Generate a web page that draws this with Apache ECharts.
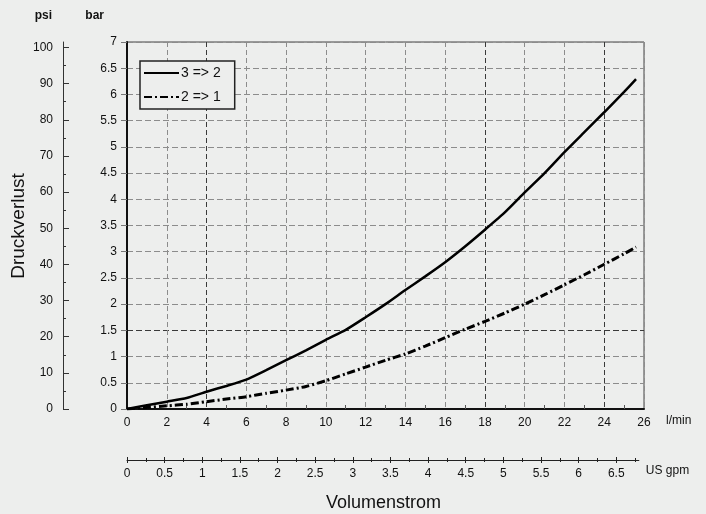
<!DOCTYPE html>
<html>
<head>
<meta charset="utf-8">
<script src="https://cdn.jsdelivr.net/npm/echarts@6/dist/echarts.min.js"></script>
<style>
html,body{margin:0;padding:0;background:#edeeed;}
#c{width:706px;height:514px;}
</style>
</head>
<body>
<div id="c"></div>
<script>
// Flow in l/min
var flowLpm = [0, 1, 2, 3, 4, 5, 6, 7, 8, 9, 10, 11, 12, 13, 14, 15, 16, 17, 18, 19, 20, 21, 22, 23, 24, 25, 25.6];
// Pressure loss in bar, series "3 => 2"
var loss32 = [0, 0.07, 0.14, 0.21, 0.33, 0.44, 0.56, 0.74, 0.93, 1.12, 1.32, 1.51, 1.75, 2.0, 2.27, 2.53, 2.8, 3.1, 3.42, 3.75, 4.13, 4.5, 4.9, 5.28, 5.66, 6.05, 6.29];
// Pressure loss in bar, series "2 => 1"
var loss21 = [0, 0.03, 0.06, 0.09, 0.14, 0.19, 0.235, 0.3, 0.36, 0.43, 0.54, 0.67, 0.8, 0.93, 1.05, 1.2, 1.36, 1.52, 1.67, 1.83, 2.0, 2.18, 2.37, 2.56, 2.76, 2.96, 3.09];
var seriesNames = ['3 => 2', '2 => 1'];
// Tick labels
var psiTicks = [0, 10, 20, 30, 40, 50, 60, 70, 80, 90, 100];
var gpmTicks = [0, 0.5, 1, 1.5, 2, 2.5, 3, 3.5, 4, 4.5, 5, 5.5, 6, 6.5];

var BAR_TO_PSI = 14.5038;
var LPM_PER_GPM = 3.78541;
var barMax = 7, lpmMax = 26, gpmMax = 6.8;
var plotLeft = 127, plotTop = 42, plotW = 517, plotH = 367;
var gpmW = gpmMax * LPM_PER_GPM * plotW / lpmMax;

function pairs(xs, ys) { return xs.map(function (x, i) { return [x, ys[i]]; }); }

var FONT = '"Liberation Sans", Arial, sans-serif';
var lightG = '#8c8c8c', darkG = '#3a3a3a';
var xSplitColors = [];
for (var i = 0; i <= 13; i++) xSplitColors.push((i === 2 || i === 9 || i === 12) ? darkG : lightG);
var ySplitColors = [];
for (var j = 0; j <= 14; j++) ySplitColors.push(j === 3 ? darkG : lightG);

var lbl = { color: '#111', fontSize: 12, fontFamily: FONT };

var chart = echarts.init(document.getElementById('c'), null, { renderer: 'canvas' });
chart.setOption({
  backgroundColor: '#edeeed',
  animation: false,
  color: ['#000', '#000'],
  textStyle: { fontFamily: FONT },
  grid: [
    { left: plotLeft, top: plotTop, width: plotW, height: plotH, show: true, borderColor: '#444', borderWidth: 1, containLabel: false },
    { left: plotLeft, top: 459, width: gpmW, height: 1, show: false }
  ],
  legend: {
    orient: 'vertical', left: 140, top: 61,
    data: seriesNames,
    itemWidth: 35, itemHeight: 14, itemGap: 10,
    padding: [5, 14, 5, 3],
    borderColor: '#222', borderWidth: 1.5,
    backgroundColor: '#edeeed',
    itemStyle: { opacity: 0 },
    textStyle: { fontSize: 14, color: '#111', fontFamily: FONT, padding: [0, 0, 0, -3] }
  },
  xAxis: [
    {
      type: 'value', gridIndex: 0, min: 0, max: lpmMax, interval: 2,
      name: 'l/min', nameLocation: 'end', nameGap: 22,
      nameTextStyle: { color: '#111', fontSize: 12, fontFamily: FONT, verticalAlign: 'top', padding: [6, 0, 0, 0], align: 'left' },
      axisLine: { show: true, onZero: false, lineStyle: { color: '#111', width: 2 } },
      axisTick: { show: false, inside: true },
      minorTick: { show: true, splitNumber: 2, length: 4, lineStyle: { color: '#555', width: 1 } },
      axisLabel: Object.assign({ margin: 8 }, lbl),
      splitLine: { show: true, lineStyle: { color: xSplitColors, type: [5, 3], width: 1 } }
    },
    {
      type: 'value', gridIndex: 1, min: 0, max: gpmMax, interval: 0.5, position: 'bottom',
      name: 'US gpm', nameLocation: 'end', nameGap: 7,
      nameTextStyle: { color: '#111', fontSize: 12, fontFamily: FONT, verticalAlign: 'top', padding: [5, 0, 0, 0], align: 'left' },
      axisLine: { show: true, onZero: false, lineStyle: { color: '#222', width: 1 } },
      axisTick: { show: true, length: 3, customValues: gpmTicks, lineStyle: { color: '#222' } },
      minorTick: { show: true, splitNumber: 2, length: 2, lineStyle: { color: '#222' } },
      axisLabel: Object.assign({ margin: 8, customValues: gpmTicks }, lbl),
      splitLine: { show: false }
    },
    {
      type: 'value', gridIndex: 1, min: 0, max: gpmMax, interval: 0.5, position: 'top',
      axisLine: { show: false },
      axisTick: { show: true, length: 3, customValues: gpmTicks, lineStyle: { color: '#222' } },
      minorTick: { show: true, splitNumber: 2, length: 2, lineStyle: { color: '#222' } },
      axisLabel: { show: false },
      splitLine: { show: false }
    }
  ],
  yAxis: [
    {
      type: 'value', gridIndex: 0, min: 0, max: barMax, interval: 0.5, position: 'left',
      name: 'bar', nameLocation: 'end', nameGap: 20,
      nameTextStyle: { color: '#111', fontSize: 12, fontWeight: 'bold', fontFamily: FONT, align: 'right', padding: [0, 23, 0, 0] },
      axisLine: { show: true, onZero: false, lineStyle: { color: '#111', width: 2 } },
      axisTick: { show: true, length: 6, lineStyle: { color: '#777' } },
      axisLabel: Object.assign({ margin: 10 }, lbl),
      splitLine: { show: true, lineStyle: { color: ySplitColors, type: [6, 3], width: 1 } }
    },
    {
      type: 'value', gridIndex: 0, min: 0, max: barMax * BAR_TO_PSI, position: 'left', offset: plotLeft - 63,
      interval: 10,
      name: 'psi', nameLocation: 'end', nameGap: 20,
      nameTextStyle: { color: '#111', fontSize: 12, fontWeight: 'bold', fontFamily: FONT, align: 'right', padding: [0, 11, 0, 0] },
      axisLine: { show: true, onZero: false, lineStyle: { color: '#333', width: 1 } },
      axisTick: { show: true, inside: true, length: 6, customValues: psiTicks, lineStyle: { color: '#333' } },
      minorTick: { show: true, splitNumber: 2, length: 3, lineStyle: { color: '#333' } },
      axisLabel: Object.assign({ margin: 10, customValues: psiTicks }, lbl),
      splitLine: { show: false }
    },
    { type: 'value', gridIndex: 1, min: 0, max: 1, show: false }
  ],
  series: [
    {
      name: seriesNames[0], type: 'line', xAxisIndex: 0, yAxisIndex: 0,
      data: pairs(flowLpm, loss32), symbol: 'none', smooth: 0.2,
      itemStyle: { color: '#000' },
      lineStyle: { color: '#000', width: 2.5, type: 'solid' }
    },
    {
      name: seriesNames[1], type: 'line', xAxisIndex: 0, yAxisIndex: 0,
      data: pairs(flowLpm, loss21), symbol: 'none', smooth: 0.2,
      itemStyle: { color: '#000' },
      lineStyle: { color: '#000', width: 3, type: [8, 3, 2, 3] }
    }
  ],
  graphic: [
    { type: 'text', left: 326, top: 494, style: { text: 'Volumenstrom', fontSize: 18, fill: '#111', fontFamily: FONT } },
    { type: 'text', x: 19, y: 226, rotation: Math.PI / 2, style: { text: 'Druckverlust', fontSize: 19, fill: '#111', fontFamily: FONT, align: 'center', verticalAlign: 'middle' } }
  ]
});
</script>
</body>
</html>
